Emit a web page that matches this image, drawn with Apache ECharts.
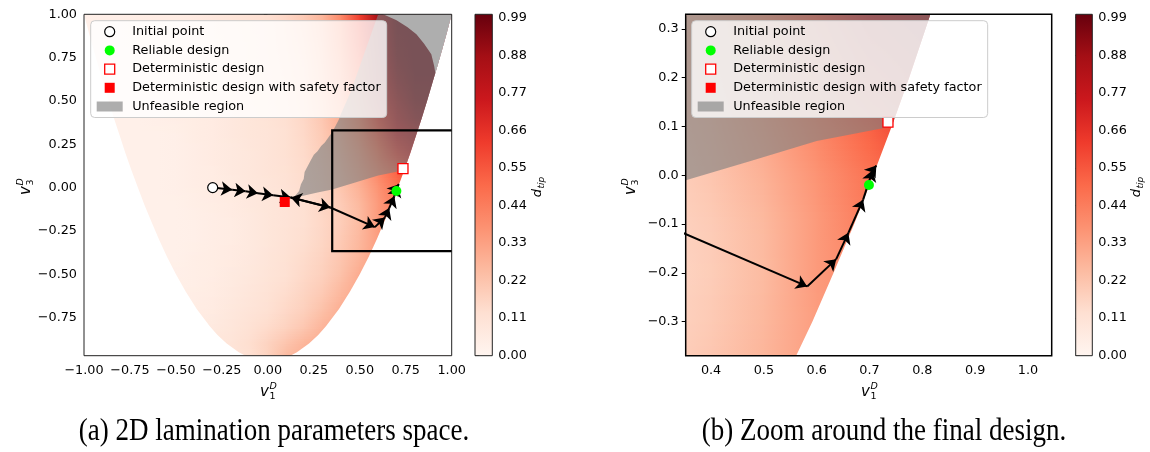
<!DOCTYPE html>
<html><head><meta charset="utf-8">
<script src="https://cdn.jsdelivr.net/npm/echarts@6/dist/echarts.min.js"></script>
<style>html,body{margin:0;padding:0;background:#fff}#c{width:1150px;height:452px}</style>
</head><body><div id="c"></div>
<script>
// ---------------- data ----------------
// d_tip sampled on a grid: columns v1 = -1.0 .. 1.0, rows v3 = -1.0 .. 1.0 (step 0.1)
const gridV1 = [-1.0,-0.9,-0.8,-0.7,-0.6,-0.5,-0.4,-0.3,-0.2,-0.1,0.0,0.1,0.2,0.3,0.4,0.5,0.6,0.7,0.8,0.9,1.0];
const gridV3 = [-1.0,-0.9,-0.8,-0.7,-0.6,-0.5,-0.4,-0.3,-0.2,-0.1,0.0,0.1,0.2,0.3,0.4,0.5,0.6,0.7,0.8,0.9,1.0];
const dtipRows = [
  [0.10,0.10,0.10,0.10,0.10,0.10,0.10,0.10,0.10,0.12,0.17,0.26,0.29,0.30,0.30,0.30,0.30,0.30,0.30,0.30,0.30],
  [0.09,0.09,0.09,0.09,0.09,0.09,0.09,0.09,0.10,0.13,0.17,0.22,0.27,0.30,0.30,0.30,0.30,0.30,0.30,0.30,0.30],
  [0.06,0.06,0.06,0.06,0.06,0.06,0.06,0.07,0.09,0.115,0.14,0.17,0.21,0.27,0.30,0.31,0.31,0.31,0.31,0.31,0.31],
  [0.05,0.05,0.05,0.05,0.05,0.05,0.05,0.06,0.08,0.10,0.12,0.15,0.18,0.23,0.29,0.31,0.31,0.31,0.31,0.31,0.31],
  [0.04,0.04,0.04,0.04,0.04,0.04,0.045,0.055,0.07,0.09,0.11,0.135,0.165,0.20,0.26,0.31,0.32,0.32,0.32,0.32,0.32],
  [0.035,0.035,0.035,0.035,0.035,0.035,0.04,0.05,0.065,0.08,0.10,0.12,0.15,0.18,0.23,0.30,0.33,0.33,0.33,0.33,0.33],
  [0.03,0.03,0.03,0.03,0.03,0.03,0.04,0.05,0.06,0.075,0.095,0.115,0.14,0.17,0.215,0.27,0.34,0.35,0.35,0.35,0.35],
  [0.03,0.03,0.03,0.03,0.03,0.03,0.035,0.045,0.055,0.07,0.09,0.11,0.13,0.16,0.20,0.26,0.34,0.38,0.38,0.38,0.38],
  [0.03,0.03,0.03,0.03,0.03,0.03,0.035,0.045,0.055,0.07,0.09,0.105,0.125,0.155,0.19,0.25,0.35,0.42,0.42,0.42,0.42],
  [0.03,0.03,0.03,0.03,0.03,0.03,0.04,0.05,0.06,0.075,0.09,0.105,0.125,0.16,0.195,0.255,0.35,0.45,0.46,0.46,0.46],
  [0.03,0.03,0.03,0.03,0.03,0.035,0.045,0.055,0.065,0.08,0.095,0.11,0.135,0.17,0.215,0.28,0.37,0.47,0.55,0.56,0.56],
  [0.03,0.03,0.03,0.03,0.03,0.035,0.045,0.055,0.07,0.085,0.10,0.115,0.14,0.18,0.23,0.31,0.41,0.52,0.65,0.68,0.68],
  [0.03,0.03,0.03,0.03,0.03,0.035,0.045,0.06,0.07,0.085,0.10,0.12,0.145,0.19,0.25,0.34,0.48,0.64,0.75,0.80,0.80],
  [0.03,0.03,0.03,0.03,0.03,0.035,0.05,0.06,0.075,0.09,0.10,0.12,0.15,0.20,0.27,0.38,0.55,0.74,0.85,0.90,0.90],
  [0.03,0.03,0.03,0.03,0.035,0.04,0.05,0.06,0.075,0.09,0.105,0.125,0.155,0.21,0.29,0.42,0.62,0.82,0.92,0.95,0.95],
  [0.03,0.03,0.03,0.03,0.035,0.04,0.05,0.065,0.08,0.095,0.11,0.13,0.16,0.22,0.31,0.47,0.70,0.88,0.96,0.97,0.97],
  [0.03,0.03,0.03,0.035,0.04,0.045,0.055,0.065,0.08,0.095,0.11,0.135,0.165,0.23,0.33,0.50,0.74,0.92,0.98,0.98,0.98],
  [0.03,0.03,0.03,0.035,0.04,0.045,0.055,0.07,0.085,0.10,0.115,0.14,0.17,0.24,0.35,0.53,0.78,0.95,0.99,0.99,0.99],
  [0.03,0.03,0.035,0.035,0.04,0.05,0.06,0.07,0.085,0.10,0.12,0.145,0.18,0.25,0.37,0.56,0.81,0.97,0.99,0.99,0.99],
  [0.03,0.03,0.035,0.04,0.045,0.05,0.06,0.075,0.09,0.105,0.12,0.15,0.19,0.26,0.39,0.59,0.84,0.98,0.99,0.99,0.99],
  [0.03,0.035,0.035,0.04,0.045,0.05,0.06,0.075,0.09,0.11,0.125,0.155,0.20,0.27,0.41,0.62,0.87,0.99,0.99,0.99,0.99]
];
// boundary of the lamination-parameter domain (half width in v1 at each v3)
const edgeV3   = [-1.0,-0.97,-0.95,-0.9,-0.85,-0.8,-0.7,-0.6,-0.5,-0.4,-0.3,-0.2,-0.1,0.0,0.1,0.2,0.3,0.4,0.5,0.6,0.7,0.8,0.9,1.0];
const edgeHalf = [0.0,0.122,0.158,0.224,0.274,0.316,0.387,0.447,0.5,0.548,0.592,0.632,0.671,0.707,0.742,0.775,0.806,0.837,0.866,0.894,0.922,0.949,0.975,1.0];
// edge of the drawn d_tip field in the upper-right corner
const fieldTopEdge = [[0.627,1.0],[0.70,0.965],[0.76,0.925],[0.808,0.885],[0.85,0.83],[0.889,0.769],[0.905,0.70],[0.911,0.66]];
// unfeasible region outline
const unfeasibleLower = [[0.13,-0.06],[0.18,-0.05],[0.27,-0.028],[0.35,-0.011],[0.475,0.029],[0.60,0.07],[0.742,0.10]];
const unfeasibleLeft = [[0.60,1.0],[0.55,0.85],[0.50,0.70],[0.45,0.55],[0.40,0.43],[0.385,0.39],[0.37,0.36],[0.35,0.32],[0.33,0.29],[0.31,0.26],[0.29,0.24],[0.27,0.21],[0.25,0.19],[0.23,0.15],[0.215,0.12],[0.20,0.09],[0.195,0.05],[0.18,0.02],[0.17,-0.02],[0.15,-0.045]];
// optimisation path
const pathV1 = [-0.30,-0.194,-0.121,-0.054,0.029,0.125,0.34,0.582,0.637,0.660,0.688,0.706,0.713];
const pathV3 = [0.00,-0.012,-0.021,-0.033,-0.044,-0.057,-0.115,-0.228,-0.172,-0.118,-0.050,0.010,0.020];
const initialPoint = [-0.30, 0.00];
const reliableDesign = [0.699, -0.020];
const deterministicDesign = [0.735, 0.109];
const safetyFactorDesign = [0.092, -0.083];
const zoomBox = [0.35, -0.367, 1.05, 0.33];
// ticks
const ticksA = [-1.0,-0.75,-0.5,-0.25,0.0,0.25,0.5,0.75,1.0];
const yTicksA = [-0.75,-0.5,-0.25,0.0,0.25,0.5,0.75,1.0];
const xTicksB = [0.4,0.5,0.6,0.7,0.8,0.9,1.0];
const yTicksB = [-0.3,-0.2,-0.1,0.0,0.1,0.2,0.3];
const cbarTicks = [0.0,0.11,0.22,0.33,0.44,0.55,0.66,0.77,0.88,0.99];
const legendNames = ['Initial point','Reliable design','Deterministic design','Deterministic design with safety factor','Unfeasible region'];

// ---------------- styling ----------------
const FONT = 'DejaVu Sans';
const GRAY = 'rgba(128,128,128,0.64)';
const reds = ['#fff5f0','#fee0d2','#fcbba1','#fc9272','#fb6a4a','#ef3b2c','#cb181d','#a50f15','#67000d'];
function hex2rgb(h){return [parseInt(h.substr(1,2),16),parseInt(h.substr(3,2),16),parseInt(h.substr(5,2),16)];}
const redsRgb = reds.map(hex2rgb);
function cmap(v){
  v = Math.max(0, Math.min(1, v));
  const t = v*8, k = Math.min(7, Math.floor(t)), f = t-k;
  const a = redsRgb[k], b = redsRgb[k+1];
  return 'rgb('+Math.round(a[0]+(b[0]-a[0])*f)+','+Math.round(a[1]+(b[1]-a[1])*f)+','+Math.round(a[2]+(b[2]-a[2])*f)+')';
}
const minus = s => s.replace('-', '\u2212');

const cells = [];
for (let j = 0; j < gridV3.length-1; j++) for (let i = 0; i < gridV1.length-1; i++) cells.push([i, j]);

function fieldItem(params, api){
  const i = api.value(0), j = api.value(1);
  const p0 = api.coord([gridV1[i], gridV3[j]]), p1 = api.coord([gridV1[i+1], gridV3[j+1]]);
  const left = p0[0], right = p1[0], bottom = p0[1], top = p1[1];
  const v00 = dtipRows[j][i], v10 = dtipRows[j][i+1], v01 = dtipRows[j+1][i], v11 = dtipRows[j+1][i+1];
  const h = bottom - top, n = Math.max(1, Math.ceil(h/2.5));
  const children = [];
  for (let k = 0; k < n; k++){
    const tm = (k+0.5)/n;
    const vl = v00+(v01-v00)*tm, vr = v10+(v11-v10)*tm;
    const yb = bottom - h*k/n, ya = bottom - h*(k+1)/n;
    children.push({type:'rect', silent:true,
      shape:{x:left-0.4, y:ya-0.4, width:right-left+0.8, height:yb-ya+0.8},
      style:{fill:new echarts.graphic.LinearGradient(0,0,1,0,[{offset:0,color:cmap(vl)},{offset:1,color:cmap(vr)}])}});
  }
  return {type:'group', children};
}
function polyItem(points, style){
  return function(params, api){
    return {type:'polygon', silent:true, shape:{points:points.map(p => api.coord(p))}, style};
  };
}
// mask polygons built from the boundary arrays
const leftMask = [[-2,1.0]], rightMask = [[2,1.0]];
for (let k = edgeV3.length-1; k >= 0; k--){ leftMask.push([-edgeHalf[k], edgeV3[k]]); rightMask.push([edgeHalf[k], edgeV3[k]]); }
leftMask.push([0,-2],[-2,-2]); rightMask.push([0,-2],[2,-2]);
const topMask = fieldTopEdge.slice();
for (let k = 0; k < edgeV3.length; k++) if (edgeV3[k] > 0.66) topMask.push([edgeHalf[k], edgeV3[k]]);
topMask.push([1.0,1.05],[0.627,1.05]);
const grayPoly = unfeasibleLower.slice();
for (let k = 0; k < edgeV3.length; k++) if (edgeV3[k] > 0.105) grayPoly.push([edgeHalf[k], edgeV3[k]]);
unfeasibleLeft.forEach(p => grayPoly.push(p));
const boxPoly = [[zoomBox[0],zoomBox[1]],[zoomBox[2],zoomBox[1]],[zoomBox[2],zoomBox[3]],[zoomBox[0],zoomBox[3]]];
const pathSegs = [];
for (let k = 0; k < pathV1.length-1; k++) pathSegs.push({coords:[[pathV1[k],pathV3[k]],[pathV1[k+1],pathV3[k+1]]]});
pathSegs.push({coords:[[pathV1[6],pathV3[6]],[pathV1[5],pathV3[5]]]}); // reverse arrow

function panelSeries(g, withBox, withFar){
  const ax = {xAxisIndex:g, yAxisIndex:g};
  const s = [
    Object.assign({type:'custom', clip:true, z:1, silent:true, renderItem:fieldItem, data:cells}, ax),
    Object.assign({type:'custom', clip:true, z:2, silent:true, renderItem:polyItem(leftMask,{fill:'#fff'}), data:[[0,0]]}, ax),
    Object.assign({type:'custom', clip:true, z:2, silent:true, renderItem:polyItem(rightMask,{fill:'#fff'}), data:[[0,0]]}, ax),
    Object.assign({type:'custom', clip:true, z:2, silent:true, renderItem:polyItem(topMask,{fill:'#fff'}), data:[[0,0]]}, ax),
    Object.assign({type:'custom', name:'Unfeasible region', clip:true, z:3, silent:true, renderItem:polyItem(grayPoly,{fill:GRAY}), data:[[0,0]]}, ax)
  ];
  if (withBox) s.push(Object.assign({type:'custom', clip:true, z:4, silent:true, renderItem:polyItem(boxPoly,{fill:'none', stroke:'#000', lineWidth:2.2}), data:[[0,0]]}, ax));
  s.push(Object.assign({type:'lines', coordinateSystem:'cartesian2d', z:5, silent:true, symbol:['none','arrow'], symbolSize:11,
    lineStyle:{color:'#000', width:2, opacity:1}, data:pathSegs}, ax));
  s.push(Object.assign({type:'scatter', name:'Initial point', z:6, symbol:'circle', symbolSize:10, itemStyle:{color:'#fff', borderColor:'#000', borderWidth:1.2, opacity:1}, data:withFar?[initialPoint]:[]}, ax));
  s.push(Object.assign({type:'scatter', name:'Deterministic design with safety factor', z:6, symbol:'rect', symbolSize:10, itemStyle:{color:'#ff0000', opacity:1}, data:withFar?[safetyFactorDesign]:[]}, ax));
  s.push(Object.assign({type:'scatter', name:'Reliable design', z:6, symbol:'circle', symbolSize:10, itemStyle:{color:'#00ff00', opacity:1}, data:[reliableDesign]}, ax));
  s.push(Object.assign({type:'scatter', name:'Deterministic design', z:6, symbol:'rect', symbolSize:10, itemStyle:{color:'#fff', borderColor:'#ff0000', borderWidth:1.3, opacity:1}, data:[deterministicDesign]}, ax));
  return s;
}

function cbarSeries(g){
  return {type:'custom', xAxisIndex:g, yAxisIndex:g, clip:false, z:1, silent:true, data:[[0,0]],
    renderItem:function(params, api){
      const a = api.coord([0,0]), b = api.coord([1,1]);
      const stops = reds.map((c,k) => ({offset:1-k/8, color:c})).reverse();
      return {type:'rect', shape:{x:a[0], y:b[1], width:b[0]-a[0], height:a[1]-b[1]},
        style:{fill:new echarts.graphic.LinearGradient(0,0,0,1,stops)}};
    }};
}

const lblStyle = {color:'#000', fontSize:12.8, fontFamily:FONT};
function xAxisCfg(g, min, max, ticks, dec){
  return {type:'value', gridIndex:g, min, max, position:'bottom', splitLine:{show:false},
    axisLine:{show:false},
    axisTick:{show:true, customValues:ticks, length:4, lineStyle:{color:'#000', width:1}},
    axisLabel:Object.assign({show:true, customValues:ticks, margin:8, formatter:v => minus(v.toFixed(dec))}, lblStyle)};
}
function yAxisCfg(g, min, max, ticks, dec, pos){
  return {type:'value', gridIndex:g, min, max, position:pos||'left', splitLine:{show:false},
    axisLine:{show:false},
    axisTick:{show:true, customValues:ticks, length:4, lineStyle:{color:'#000', width:1}},
    axisLabel:Object.assign({show:true, customValues:ticks, margin:pos==='right'?6:7, formatter:v => minus(v.toFixed(dec))}, lblStyle)};
}
function hiddenX(g){ return {type:'value', gridIndex:g, min:0, max:1, show:false}; }

const SQUARE = 'path://M0,0H10V10H0Z';
const legendData = [
  {name:legendNames[0], icon:'circle', itemStyle:{color:'#fff', borderColor:'#000', borderWidth:1.2}},
  {name:legendNames[1], icon:'circle', itemStyle:{color:'#00ff00', borderWidth:0}},
  {name:legendNames[2], icon:SQUARE, itemStyle:{color:'#fff', borderColor:'#ff0000', borderWidth:1.3}},
  {name:legendNames[3], icon:SQUARE, itemStyle:{color:'#ff0000', borderWidth:0}},
  {name:legendNames[4], icon:'path://M0,0H26V10H0Z', itemStyle:{color:GRAY, borderWidth:0}}
];
function legendCfg(left){
  return {orient:'vertical', left, top:20.7, z:20, selectedMode:false, data:legendData,
    itemWidth:35, itemHeight:10, itemGap:4.7, padding:[4,6,4,6],
    backgroundColor:'rgba(255,255,255,0.8)', borderColor:'#cccccc', borderWidth:1, borderRadius:4,
    textStyle:{color:'#000', fontSize:12.8, fontFamily:FONT, lineHeight:14}};
}

function vLabel(x, y, sub, rot){
  return {type:'group', x, y, rotation:rot||0, silent:true, children:[
    {type:'text', x:1, y:0, style:{text:'v', fontSize:15, fontStyle:'italic', fontFamily:FONT, fill:'#000', align:'right', verticalAlign:'middle'}},
    {type:'text', x:1.5, y:-5, style:{text:'D', fontSize:9.5, fontStyle:'italic', fontFamily:FONT, fill:'#000', align:'left', verticalAlign:'middle'}},
    {type:'text', x:1.5, y:5, style:{text:sub, fontSize:9.5, fontFamily:FONT, fill:'#000', align:'left', verticalAlign:'middle'}}
  ]};
}
function dLabel(x, y){
  return {type:'group', x, y, rotation:Math.PI/2, silent:true, children:[
    {type:'text', x:-4, y:0, style:{text:'d', fontSize:13, fontStyle:'italic', fontFamily:FONT, fill:'#000', align:'right', verticalAlign:'middle'}},
    {type:'text', x:-3.5, y:4, style:{text:'tip', fontSize:9, fontStyle:'italic', fontFamily:FONT, fill:'#000', align:'left', verticalAlign:'middle'}}
  ]};
}
function caption(x, y, text){
  return {type:'text', x, y, silent:true, scaleY:1.15, style:{text, fontSize:27, fontFamily:'Liberation Serif', fill:'#000', align:'center', verticalAlign:'middle'}};
}

const chart = echarts.init(document.getElementById('c'), null, {renderer:'canvas'});
const gridBase = {show:true, z:10, backgroundColor:'transparent', containLabel:false, outerBoundsMode:'none'};
chart.setOption({
  animation:false,
  backgroundColor:'#fff',
  grid:[
    Object.assign({left:84, top:14.3, width:367.7, height:341.4, borderColor:'#222', borderWidth:1}, gridBase),
    Object.assign({left:685.7, top:14.3, width:366, height:341.4, borderColor:'#000', borderWidth:1.5}, gridBase),
    Object.assign({left:475, top:14.3, width:17.3, height:341.4, borderColor:'#222', borderWidth:1}, gridBase),
    Object.assign({left:1075.7, top:14.3, width:16.6, height:341.4, borderColor:'#222', borderWidth:1}, gridBase)
  ],
  xAxis:[
    xAxisCfg(0, -1, 1, ticksA, 2),
    xAxisCfg(1, 0.352, 1.045, xTicksB, 1),
    hiddenX(2), hiddenX(3)
  ],
  yAxis:[
    yAxisCfg(0, -0.97, 1, yTicksA, 2),
    yAxisCfg(1, -0.37, 0.33, yTicksB, 1),
    yAxisCfg(2, 0, 1, cbarTicks, 2, 'right'),
    yAxisCfg(3, 0, 1, cbarTicks, 2, 'right')
  ],
  legend:[legendCfg(90.7), legendCfg(691.7)],
  series:[].concat(panelSeries(0, true, true), panelSeries(1, false, false), [cbarSeries(2), cbarSeries(3)]),
  graphic:[
    vLabel(26, 187, '3', Math.PI/2),
    vLabel(631, 187, '3', Math.PI/2),
    vLabel(268, 392, '1', 0),
    vLabel(869, 392, '1', 0),
    dLabel(538, 185),
    dLabel(1137, 185),
    caption(274, 432, '(a) 2D lamination parameters space.'),
    caption(884, 432, '(b) Zoom around the final design.')
  ]
});
</script></body></html>
